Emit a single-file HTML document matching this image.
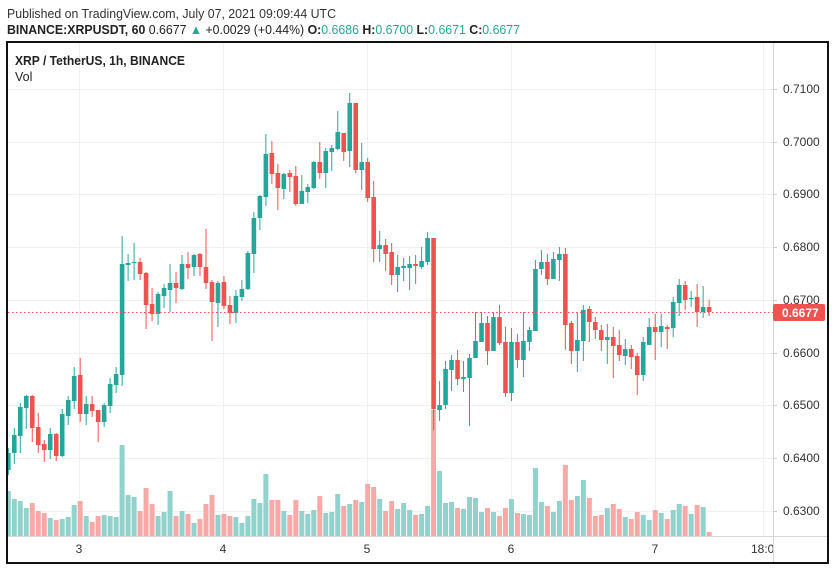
<!DOCTYPE html>
<html><head><meta charset="utf-8"><style>
html,body{margin:0;padding:0;background:#fff;}
svg{display:block;font-family:"Liberation Sans",sans-serif;}
</style></head><body>
<svg id="s" width="836" height="571" viewBox="0 0 836 571" xmlns="http://www.w3.org/2000/svg">
<rect width="836" height="571" fill="#fff"/>
<text x="7" y="18" font-size="13" fill="#333" textLength="329" lengthAdjust="spacingAndGlyphs">Published on TradingView.com, July 07, 2021 09:09:44 UTC</text>
<text x="7" y="34" font-size="13" fill="#222" textLength="513" lengthAdjust="spacingAndGlyphs"><tspan font-weight="bold">BINANCE:XRPUSDT, 60</tspan> 0.6677 <tspan fill="#26a69a">▲</tspan> +0.0029 (+0.44%) <tspan font-weight="bold">O:</tspan><tspan fill="#26a69a">0.6686</tspan> <tspan font-weight="bold">H:</tspan><tspan fill="#26a69a">0.6700</tspan> <tspan font-weight="bold">L:</tspan><tspan fill="#26a69a">0.6671</tspan> <tspan font-weight="bold">C:</tspan><tspan fill="#26a69a">0.6677</tspan></text>
<g id="grid" stroke="#f0f0f0" stroke-width="1"></g>
<g id="vol"></g>
<g id="cand"></g>
<line x1="8" y1="312.5" x2="773" y2="312.5" stroke="#ef5350" stroke-width="1" stroke-dasharray="1.5,2.5"/>
<text x="15" y="65" font-size="12.5" font-weight="bold" fill="#222" textLength="170" lengthAdjust="spacingAndGlyphs">XRP / TetherUS, 1h, BINANCE</text>
<text x="15" y="81" font-size="12.5" fill="#222">Vol</text>
<line x1="773.5" y1="42" x2="773.5" y2="563" stroke="#d6d6d6"/>
<line x1="7" y1="536.5" x2="828" y2="536.5" stroke="#d6d6d6"/>
<g id="ptk" font-size="12" fill="#333"></g>
<rect x="773" y="304" width="52" height="17" rx="2" fill="#ef5350"/>
<text x="782" y="317" font-size="12" font-weight="bold" fill="#fff">0.6677</text>
<g font-size="12" fill="#333" text-anchor="middle">
<text x="79" y="553">3</text><text x="223" y="553">4</text><text x="367" y="553">5</text><text x="511" y="553">6</text><text x="655" y="553">7</text>
</g>
<text x="751" y="553" font-size="12" fill="#333">18:0</text>
<rect x="773" y="543" width="10" height="16" fill="#fff"/>
<line x1="773.5" y1="536" x2="773.5" y2="563" stroke="#d6d6d6"/>
<rect x="7" y="42" width="821" height="521" fill="none" stroke="#111" stroke-width="2"/>
</svg>
<script>
var NS="http://www.w3.org/2000/svg";
function el(p,t,a){var e=document.createElementNS(NS,t);for(var k in a)e.setAttribute(k,a[k]);document.getElementById(p).appendChild(e);return e;}
var gy=[89,142,194,247,300,353,405,458,511];
gy.forEach(function(y){el("grid","line",{x1:8,x2:773,y1:y+.5,y2:y+.5});});
[79,223,367,511,655,763].forEach(function(x){el("grid","line",{x1:x+.5,x2:x+.5,y1:43,y2:536});});
var pl=["0.7100","0.7000","0.6900","0.6800","0.6700","0.6600","0.6500","0.6400","0.6300"];
gy.forEach(function(y,i){el("ptk","line",{x1:773,x2:777,y1:y+.5,y2:y+.5,stroke:"#ccc"});var t=el("ptk","text",{x:783,y:y+4});t.textContent=pl[i];});
var C="g453,470,448,475 g435,453,428,464 g407,436,403,453 g396,408,395,429 r396,428,395,442 r427,445,413,453 r444,450,440,462 g434,450,428,459 r434,456,433,461 g414,456,409,457 g400,416,396,425 g376,401,367,409 r375,414,358,422 g404,414,396,425 r404,411,396,417 r410,422,410,442 g405,422,403,427 g384,406,378,413 g374,385,367,393 g264,375,236,386 g263,265,254,281 g262,263,243,280 r262,274,258,280 r273,305,272,329 r304,314,288,321 g294,314,292,325 g288,296,284,308 g283,290,264,312 r283,288,272,303 g264,289,255,290 r264,268,252,279 g255,267,254,276 r254,267,253,276 r267,283,229,289 r282,302,280,341 g283,303,281,327 r282,306,276,309 r305,313,296,324 g296,313,290,323 g289,297,280,301 g253,289,251,290 g218,254,212,273 g196,218,195,230 g154,197,134,206 r153,174,141,184 r173,188,164,210 g174,189,173,199 r173,177,170,192 r176,204,166,206 g191,204,175,204 g187,192,184,203 g162,188,161,189 r162,173,142,179 g151,173,148,188 g148,152,145,171 g132,149,111,150 r133,152,133,161 g103,151,93,167 r103,170,103,173 g162,170,143,190 r162,198,158,202 r197,249,181,262 g245,249,231,262 r245,254,239,271 r252,275,243,285 g267,275,255,292 g266,268,258,281 g264,268,256,290 r264,266,255,284 g261,267,247,269 g238,262,232,265 r238,409,238,430 g405,410,381,421 g369,405,361,409 g360,370,355,391 r360,379,350,385 g377,379,361,392 g358,378,354,426 g341,358,312,358 g323,342,312,342 r323,351,316,365 g317,351,312,351 r317,343,305,345 r342,393,327,397 g342,393,328,401 r342,360,334,368 g341,360,312,377 g330,342,327,351 g269,331,260,331 g262,269,250,275 r262,279,254,285 g259,279,252,279 g254,260,247,281 r254,325,248,350 r323,351,321,364 g340,351,312,372 g310,341,305,361 r309,322,306,342 r322,330,317,339 r330,340,325,351 g337,340,324,364 r337,346,327,378 r345,355,330,361 g349,356,339,365 r349,357,345,369 r356,375,353,395 g342,375,337,381 g327,345,318,345 r327,332,314,360 g326,332,314,347 r327,329,325,349 g302,328,297,337 g285,303,279,316 r285,300,281,310 g298,299,291,307 r297,312,284,327 g307,312,286,318 r307,312,300,316".split(" ");
var V=[153,177,183,204,189,213,219,234,240,237,231,195,183,228,246,228,225,228,231,15,165,171,213,144,192,228,216,153,228,213,222,249,237,192,165,225,222,228,231,249,228,177,189,102,180,180,213,225,180,213,222,210,168,219,216,162,198,192,180,186,132,141,177,213,183,207,189,210,225,222,198,-90,93,189,186,204,207,171,174,216,204,216,228,204,177,219,222,225,84,186,198,216,183,75,180,168,120,174,228,225,204,192,207,231,237,216,225,240,210,219,237,210,192,198,222,195,201,276];
C.forEach(function(s,i){
 var up=s[0]=="g";var a=s.slice(1).split(",").map(Number);
 var cx=8.3+5.99*i;
 var h=(288-V[i])/3;
 var vx=Math.max(cx-2.5,8);
 el("vol","rect",{x:vx,y:536-h,width:cx+2.5-vx,height:h,fill:up?"#92d2cc":"#f7a9a7"});
 var col=up?"#26a69a":"#ef5350";
 el("cand","line",{x1:cx,x2:cx,y1:a[2],y2:a[3],stroke:col,"stroke-width":1});
 var bx=Math.max(cx-2.3,8);
 el("cand","rect",{x:bx,y:a[0],width:cx+2.3-bx,height:Math.max(a[1]-a[0],1),fill:col});
});
</script>
</body></html>
